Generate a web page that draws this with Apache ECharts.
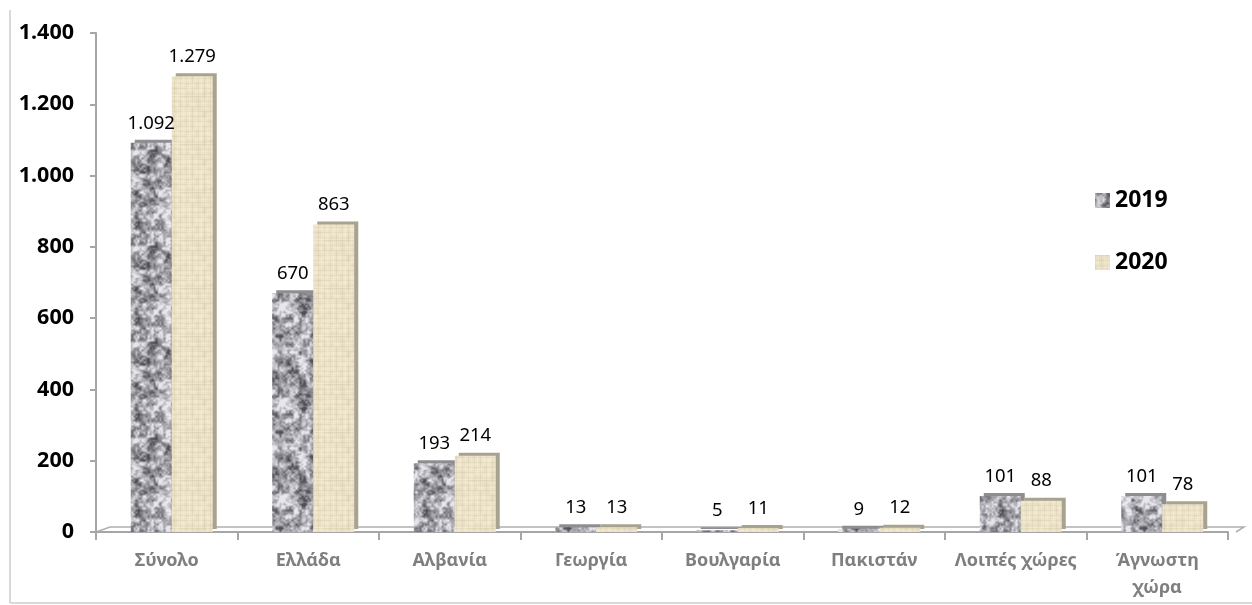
<!DOCTYPE html>
<html><head><meta charset="utf-8">
<script src="https://cdn.jsdelivr.net/npm/echarts@6/dist/echarts.min.js"></script>
<style>html,body{margin:0;padding:0;background:#fff}#c{width:1252px;height:605px}</style>
</head><body><div id="c"></div>
<script>
const categories = ['Σύνολο','Ελλάδα','Αλβανία','Γεωργία','Βουλγαρία','Πακιστάν','Λοιπές χώρες','Άγνωστη\nχώρα'];
const values2019 = [1092, 670, 193, 13, 5, 9, 101, 101];
const values2020 = [1279, 863, 214, 13, 11, 12, 88, 78];
const seriesNames = ['2019','2020'];
const yTicks = [0,200,400,600,800,1000,1200,1400];

function hash(x,y,s){let h=Math.sin(x*127.1+y*311.7+s*74.7)*43758.5453;return h-Math.floor(h);}
function vnoise(x,y,cell,s,W){
  const gx=Math.floor(x/cell), gy=Math.floor(y/cell), fx=x/cell-gx, fy=y/cell-gy;
  const n=W/cell;
  const a=hash(gx%n,gy%n,s), b=hash((gx+1)%n,gy%n,s), c=hash(gx%n,(gy+1)%n,s), d=hash((gx+1)%n,(gy+1)%n,s);
  const ux=fx*fx*(3-2*fx), uy=fy*fy*(3-2*fy);
  return a+(b-a)*ux+(c-a)*uy+(a-b-c+d)*ux*uy;
}
function granite(){
  const W=96, cv=document.createElement('canvas'); cv.width=W; cv.height=W;
  const ctx=cv.getContext('2d'), img=ctx.createImageData(W,W);
  for(let y=0;y<W;y++)for(let x=0;x<W;x++){
    let v=0.4*vnoise(x,y,8,1,W)+0.35*vnoise(x,y,4,2,W)+0.25*vnoise(x,y,2,3,W);
    v=Math.max(0,Math.min(1,(v-0.5)*2.0+0.58));
    const g=80+v*150;
    const i=(y*W+x)*4; img.data[i]=g; img.data[i+1]=g; img.data[i+2]=g+6; img.data[i+3]=255;
  }
  ctx.putImageData(img,0,0); return cv;
}
function canvasTex(){
  const W=48, cv=document.createElement('canvas'); cv.width=W; cv.height=W;
  const ctx=cv.getContext('2d'), img=ctx.createImageData(W,W);
  for(let y=0;y<W;y++)for(let x=0;x<W;x++){
    let r=236,g=226,b=200;
    let d=(vnoise(x,y,4,5,W)-0.5)*12;
    if(x%6===0) d-=8; if(y%5===0) d-=7;
    if(x%6===3) d+=4; if(y%5===2) d+=4;
    const i=(y*W+x)*4; img.data[i]=r+d; img.data[i+1]=g+d; img.data[i+2]=b+d*1.1; img.data[i+3]=255;
  }
  ctx.putImageData(img,0,0); return cv;
}
const pat2019={image:granite(),repeat:'repeat'};
const pat2020={image:canvasTex(),repeat:'repeat'};
const fmt=v=>String(v).replace(/\B(?=(\d{3})+(?!\d))/g,'.');
const FONT='"Noto Sans", sans-serif';

const chart=echarts.init(document.getElementById('c'),null,{renderer:'canvas'});
const labelCfg={show:true,position:'top',distance:10,color:'#000',fontFamily:FONT,fontSize:18.5,formatter:p=>fmt(p.value)};
chart.setOption({
  animation:false,
  backgroundColor:'#fff',
  grid:[{left:96,right:24,top:33,bottom:73,containLabel:false},
        {left:101,right:19,top:33,bottom:73,containLabel:false}],
  legend:{orient:'vertical',left:1090,top:184,itemGap:39,itemWidth:15,itemHeight:15,
    textStyle:{fontFamily:FONT,fontSize:23,fontWeight:'bold',color:'#000',lineHeight:22},
    data:[{name:'2019',icon:'rect',itemStyle:{color:pat2019}},{name:'2020',icon:'rect',itemStyle:{color:pat2020}}]},
  xAxis:[{type:'category',gridIndex:0,data:categories,
    axisLine:{lineStyle:{color:'#a6a6a6',width:2}},
    axisTick:{show:true,length:8,lineStyle:{color:'#a6a6a6',width:2}},
    axisLabel:{interval:0,margin:15,color:'#7f7f7f',fontFamily:FONT,fontSize:18,fontWeight:'bold',lineHeight:27}},
    {type:'category',gridIndex:1,data:categories,show:false}],
  yAxis:[{type:'value',gridIndex:0,min:0,max:1400,interval:200,
    axisLine:{show:true,lineStyle:{color:'#a6a6a6',width:2}},
    axisTick:{show:true,length:6,lineStyle:{color:'#a6a6a6',width:2}},
    splitLine:{show:false},
    axisLabel:{margin:22,color:'#000',fontFamily:FONT,fontSize:21.5,fontWeight:'bold',formatter:v=>fmt(v)}},
    {type:'value',gridIndex:1,min:0,max:1400,interval:200,show:false,splitLine:{show:false}}],
  series:[
    {name:seriesNames[0],type:'bar',xAxisIndex:1,yAxisIndex:1,data:values2019,barWidth:41,barGap:'0%',
      itemStyle:{color:pat2019,shadowColor:'#8e8e92',shadowOffsetX:4,shadowOffsetY:-3,shadowBlur:0},label:labelCfg},
    {name:seriesNames[1],type:'bar',xAxisIndex:1,yAxisIndex:1,data:values2020,barWidth:41,barGap:'0%',
      itemStyle:{color:pat2020,shadowColor:'#a8a290',shadowOffsetX:4,shadowOffsetY:-3,shadowBlur:0},label:labelCfg}
  ]
});
const y0=chart.convertToPixel({yAxisIndex:0},0);
const xl=96, xr=1252-24;
chart.setOption({graphic:[
  {type:'polyline',shape:{points:[[xl,y0],[xl+14,y0-5],[xr+16,y0-5],[xr+8,y0]]},style:{stroke:'#b0b0b0',lineWidth:1.5,fill:null},silent:true,z:0},
  {type:'line',shape:{x1:10,y1:10,x2:10,y2:603},style:{stroke:'#d9d9d9',lineWidth:2},silent:true},
  {type:'line',shape:{x1:10,y1:603,x2:1252,y2:603},style:{stroke:'#d9d9d9',lineWidth:2},silent:true}
]});
</script></body></html>
